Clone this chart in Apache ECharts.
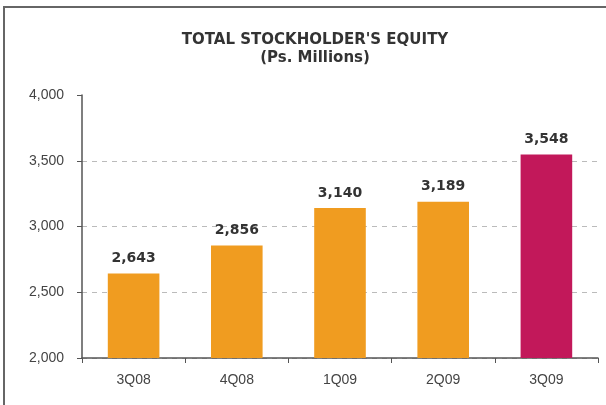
<!DOCTYPE html>
<html>
<head>
<meta charset="utf-8">
<script src="https://cdn.jsdelivr.net/npm/echarts@6/dist/echarts.min.js"></script>
<style>
html, body { margin: 0; padding: 0; background: #fff; }
#chart { width: 606px; height: 405px; }
</style>
</head>
<body>
<div id="chart"></div>
<script>
// quarters and equity values (Ps. millions)
const quarters = ['3Q08', '4Q08', '1Q09', '2Q09', '3Q09'];
const equity = [2643, 2856, 3140, 3189, 3548];
const yTicks = [2000, 2500, 3000, 3500, 4000];

const orange = '#F09C20';
const crimson = '#C2185A';

const chart = echarts.init(document.getElementById('chart'));
chart.setOption({
	animation: false,
	title: {
		text: "TOTAL STOCKHOLDER'S EQUITY\n(Ps. Millions)",
		left: 310,
		textAlign: 'center',
		top: 26,
		textStyle: {
			fontFamily: '"DejaVu Sans", sans-serif',
			fontSize: 15,
			fontWeight: 'bold',
			color: '#333',
			lineHeight: 18
		}
	},
	graphic: [{
		type: 'polyline',
		shape: { points: [[4, 405], [4, 7], [606, 7]] },
		style: { stroke: '#666', lineWidth: 2, fill: null }
	}],
	grid: { left: 82, right: 8, top: 95, bottom: 47 },
	xAxis: {
		type: 'category',
		data: quarters,
		axisLine: { lineStyle: { color: '#555', width: 1.5 } },
		axisTick: { show: true, length: 5, lineStyle: { color: '#555' } },
		axisLabel: {
			margin: 15,
			color: '#444',
			fontSize: 14,
			fontFamily: 'Arial, "Liberation Sans", sans-serif'
		}
	},
	yAxis: {
		type: 'value',
		min: yTicks[0],
		max: yTicks[yTicks.length - 1],
		interval: 500,
		axisLine: { show: true, lineStyle: { color: '#555', width: 1.5 } },
		axisTick: { show: true, length: 5, lineStyle: { color: '#555' } },
		splitLine: {
			show: true,
			lineStyle: { color: '#bbb', type: [5, 5], width: 1 },
			showMaxLine: false
		},
		axisLabel: {
			margin: 18,
			color: '#444',
			fontSize: 14,
			fontFamily: 'Arial, "Liberation Sans", sans-serif',
			formatter: (v) => v.toLocaleString('en-US')
		}
	},
	series: [{
		type: 'bar',
		barWidth: '50%',
		data: equity.map((v, i) => ({
			value: v,
			itemStyle: { color: i === equity.length - 1 ? crimson : orange }
		})),
		label: {
			show: true,
			position: 'top',
			distance: 8,
			color: '#333',
			fontSize: 14,
			fontWeight: 'bold',
			fontFamily: '"DejaVu Sans", sans-serif',
			formatter: (p) => p.value.toLocaleString('en-US')
		}
	}]
});
</script>
</body>
</html>
